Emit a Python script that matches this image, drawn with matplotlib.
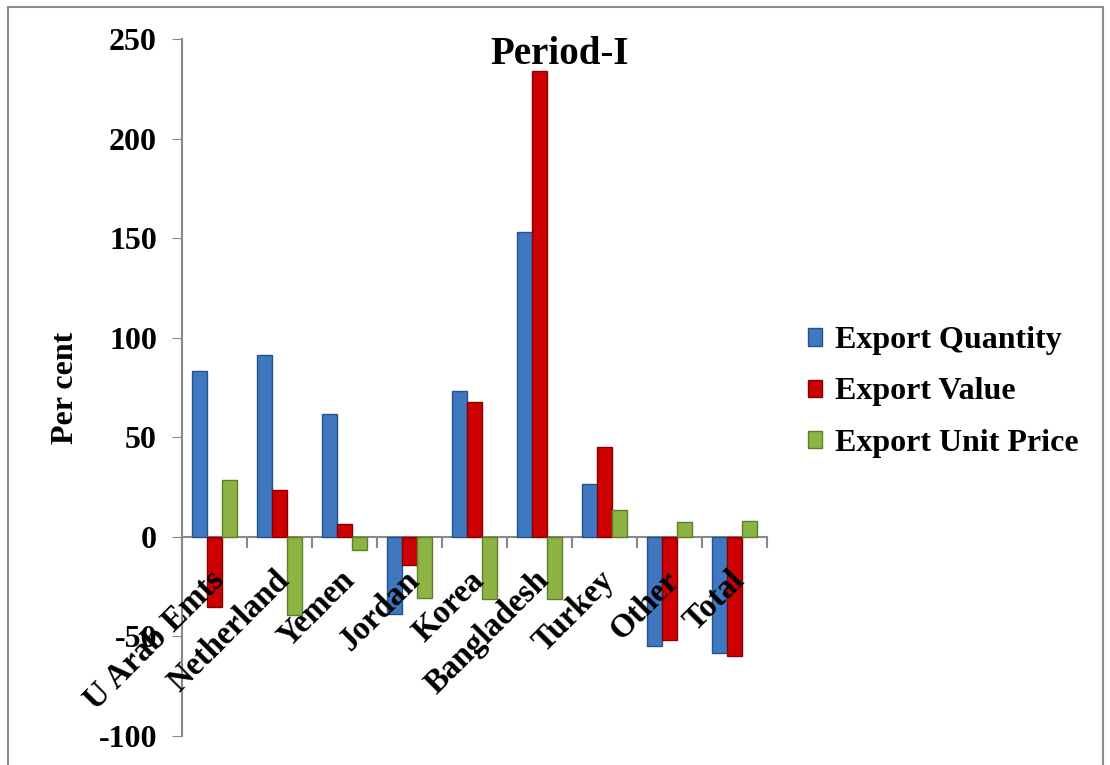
import matplotlib
matplotlib.use("Agg")
import matplotlib.pyplot as plt
from matplotlib.patches import Patch, Rectangle
import numpy as np

categories = ["U Arab Emts", "Netherland", "Yemen", "Jordan", "Korea",
              "Bangladesh", "Turkey", "Other", "Total"]
export_quantity = [83.3, 91.4, 61.7, -38.7, 73.3, 153.0, 26.6, -54.7, -58.3]
export_value = [-35.0, 23.6, 6.5, -14.0, 67.8, 234.0, 45.0, -51.7, -59.7]
export_unit_price = [28.6, -39.0, -6.5, -30.6, -31.0, -31.0, 13.5, 7.5, 8.0]
series_names = ["Export Quantity", "Export Value", "Export Unit Price"]
yticks = [-100, -50, 0, 50, 100, 150, 200, 250]

W, H = 1110, 765
fig = plt.figure(figsize=(W / 100, H / 100), dpi=100)
plt.rcParams['font.family'] = ['Liberation Serif', 'DejaVu Serif']

ax = fig.add_axes([182 / W, 1 - 736 / H, (767 - 182) / W, (736 - 39) / H])

x = np.arange(len(categories))
bw = 0.23
colors = ["#3f78c0", "#cc0000", "#8db443"]
edges = ["#24538c", "#8a0000", "#5f7d2a"]
data = [export_quantity, export_value, export_unit_price]
for i, (vals, c, ec) in enumerate(zip(data, colors, edges)):
    ax.bar(x + (i - 1) * bw, vals, width=bw, color=c, edgecolor=ec,
           linewidth=1.0, zorder=3)

ax.set_xlim(-0.5, len(categories) - 0.5)
ax.set_ylim(-100, 250)
ax.set_yticks(yticks)
ax.set_yticklabels([str(v) for v in yticks], fontsize=23, fontweight='bold')
ax.tick_params(axis='y', direction='out', length=7, color='#888888', pad=11)

ax.spines['top'].set_visible(False)
ax.spines['right'].set_visible(False)
ax.spines['left'].set_color('#888888')
ax.spines['bottom'].set_position(('data', 0))
ax.spines['bottom'].set_color('#888888')
ax.spines['bottom'].set_linewidth(1.5)
ax.spines['left'].set_linewidth(1.5)
ax.set_xticks(np.arange(len(categories) + 1) - 0.5)
ax.set_xticklabels([])
ax.tick_params(axis='x', direction='out', length=8, color='#888888', width=1.5)

for xi, lab in zip(x, categories):
    ax.text(xi + 0.08, -19.5, lab, rotation=45, ha='right', va='center',
            rotation_mode='anchor', fontsize=23.5, fontweight='bold', zorder=5)

ax.set_ylabel("Per cent", fontsize=23, fontweight='bold')
ax.yaxis.set_label_coords(-0.174, 0.5)

ax.text(0.645, 0.978, "Period-I", transform=ax.transAxes, ha='center',
        va='center', fontsize=28, fontweight='bold')

handles = [Patch(facecolor=c, edgecolor=ec, label=n)
           for c, ec, n in zip(colors, edges, series_names)]
fig.legend(handles=handles, loc='center left', bbox_to_anchor=(792 / W, 1 - 392 / H),
           frameon=False, prop={'size': 23, 'weight': 'bold'},
           handlelength=0.45, handleheight=0.45, handletextpad=0.4,
           labelspacing=0.69, borderpad=0)

fig.patches.append(Rectangle((8 / W, -0.01), (1103 - 8) / W, 1 - 7 / H + 0.01,
                             transform=fig.transFigure, fill=False,
                             edgecolor='#8c8c8c', linewidth=1.5))

fig.savefig("out.png", dpi=100)
